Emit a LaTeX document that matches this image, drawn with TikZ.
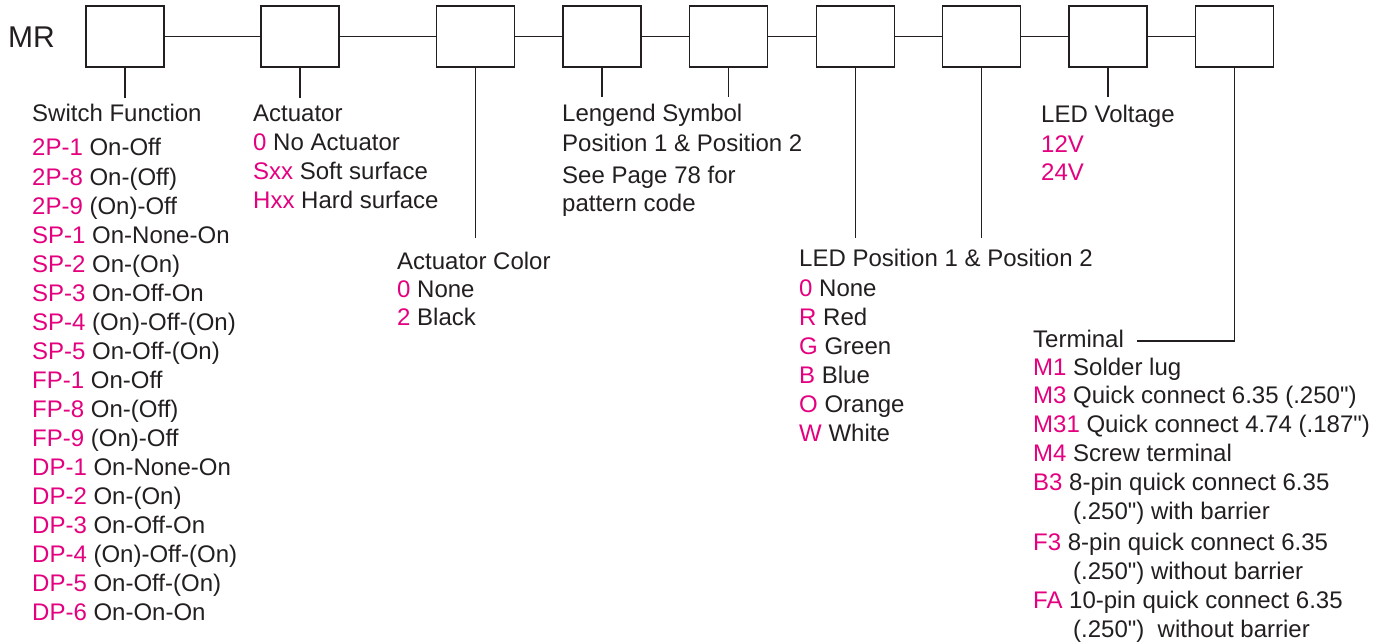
\documentclass[tikz,border=0pt]{standalone}
\usepackage{fontspec}
\setmainfont{Liberation Sans}[Ligatures=TeXOff]
\definecolor{ink}{HTML}{231F20}
\definecolor{codepink}{HTML}{E4007F}
\newcommand{\pkc}[1]{\textcolor{codepink}{#1}}
\begin{document}
\begin{tikzpicture}[x=1pt,y=-1pt,
  codebox/.style={draw=ink, line width=1.8pt, minimum width=78pt, minimum height=61pt, inner sep=0pt},
  txt/.style={anchor=base west, inner sep=0pt, text=ink, font=\fontsize{24}{29}\selectfont},
  wire/.style={draw=ink, line width=1.7pt}]
\fill[white] (0,0) rectangle (1389,644);
\useasboundingbox (0,0) rectangle (1389,644);

\node[anchor=base west, inner sep=0pt, text=ink, font=\fontsize{30}{36}\selectfont] (mr) at (8,48) {MR};

\node[codebox] (b1) at (125,36.5) {};
\node[codebox] (b2) at (300,36.5) {};
\node[codebox] (b3) at (475.5,36.5) {};
\node[codebox] (b4) at (602,36.5) {};
\node[codebox] (b5) at (728.5,36.5) {};
\node[codebox] (b6) at (855.5,36.5) {};
\node[codebox] (b7) at (981.5,36.5) {};
\node[codebox] (b8) at (1108,36.5) {};
\node[codebox] (b9) at (1234.5,36.5) {};

\foreach \a/\b in {b1/b2,b2/b3,b3/b4,b4/b5,b5/b6,b6/b7,b7/b8,b8/b9}
  \draw[wire] (\a.east) -- (\b.west);

\coordinate (t1) at (125,98);
\coordinate (t2) at (300,98);
\coordinate (t3) at (475.5,238);
\coordinate (t4) at (602,97);
\coordinate (t5) at (728.5,97);
\coordinate (t6) at (855.5,238);
\coordinate (t7) at (981.5,238);
\coordinate (t8) at (1108,97);
\coordinate (t9) at (1137,341);
\foreach \i in {1,...,8} \draw[wire] (b\i.south) -- (t\i);
\draw[wire] (b9.south) |- (t9);

% Switch Function
\node[txt] (sfh) at (32,121.7) {Switch Function};
\foreach \c/\t [count=\i from 0] in {2P-1/On-Off, 2P-8/On-(Off), 2P-9/(On)-Off, SP-1/On-None-On, SP-2/On-(On), SP-3/On-Off-On, SP-4/(On)-Off-(On), SP-5/On-Off-(On), FP-1/On-Off, FP-8/On-(Off), FP-9/(On)-Off, DP-1/On-None-On, DP-2/On-(On), DP-3/On-Off-On, DP-4/(On)-Off-(On), DP-5/On-Off-(On), DP-6/On-On-On}
  \node[txt] (sf\i) at (32,156+29.06*\i) {\pkc{\c} \t};

% Actuator
\node[txt] (ach) at (253,121.7) {Actuator};
\node[txt] (ac1) at (253,151) {\pkc{0} No Actuator};
\node[txt] (ac2) at (253,180) {\pkc{Sxx} Soft surface};
\node[txt] (ac3) at (253,208.5) {\pkc{Hxx} Hard surface};

% Actuator Color
\node[txt] (cch) at (397,270) {Actuator Color};
\node[txt] (cc1) at (397,298) {\pkc{0} None};
\node[txt] (cc2) at (397,325) {\pkc{2} Black};

% Legend symbol
\node[txt] (lsh) at (562,122) {Lengend Symbol};
\node[txt] (ls1) at (562,152) {Position 1 \& Position 2};
\node[txt] (ls2) at (562,184) {See Page 78 for};
\node[txt] (ls3) at (562,212) {pattern code};

% LED Position
\node[txt] (lph) at (799,267) {LED Position 1 \& Position 2};
\node[txt] (lp1) at (799,296) {\pkc{0} None};
\node[txt] (lp2) at (799,325) {\pkc{R} Red};
\node[txt] (lp3) at (799,354) {\pkc{G} Green};
\node[txt] (lp4) at (799,383) {\pkc{B} Blue};
\node[txt] (lp5) at (799,412) {\pkc{O} Orange};
\node[txt] (lp6) at (799,441) {\pkc{W} White};

% LED Voltage
\node[txt] (lvh) at (1041,123) {LED Voltage};
\node[txt] (lv1) at (1041,153) {\pkc{12V}};
\node[txt] (lv2) at (1041,181) {\pkc{24V}};

% Terminal
\node[txt] (teh) at (1033,347) {Terminal};
\node[txt] (te1) at (1033,375) {\pkc{M1} Solder lug};
\node[txt] (te2) at (1033,403) {\pkc{M3} Quick connect 6.35 (.250")};
\node[txt] (te3) at (1033,432) {\pkc{M31} Quick connect 4.74 (.187")};
\node[txt] (te4) at (1033,461) {\pkc{M4} Screw terminal};
\node[txt] (te5) at (1033,490) {\pkc{B3} 8-pin quick connect 6.35};
\node[txt] (te5b) at (1073,519) {(.250") with barrier};
\node[txt] (te6) at (1033,550) {\pkc{F3} 8-pin quick connect 6.35};
\node[txt] (te6b) at (1073,579) {(.250") without barrier};
\node[txt] (te7) at (1033,608) {\pkc{FA} 10-pin quick connect 6.35};
\node[txt] (te7b) at (1073,637) {(.250")\ \ without barrier};
\end{tikzpicture}
\end{document}
